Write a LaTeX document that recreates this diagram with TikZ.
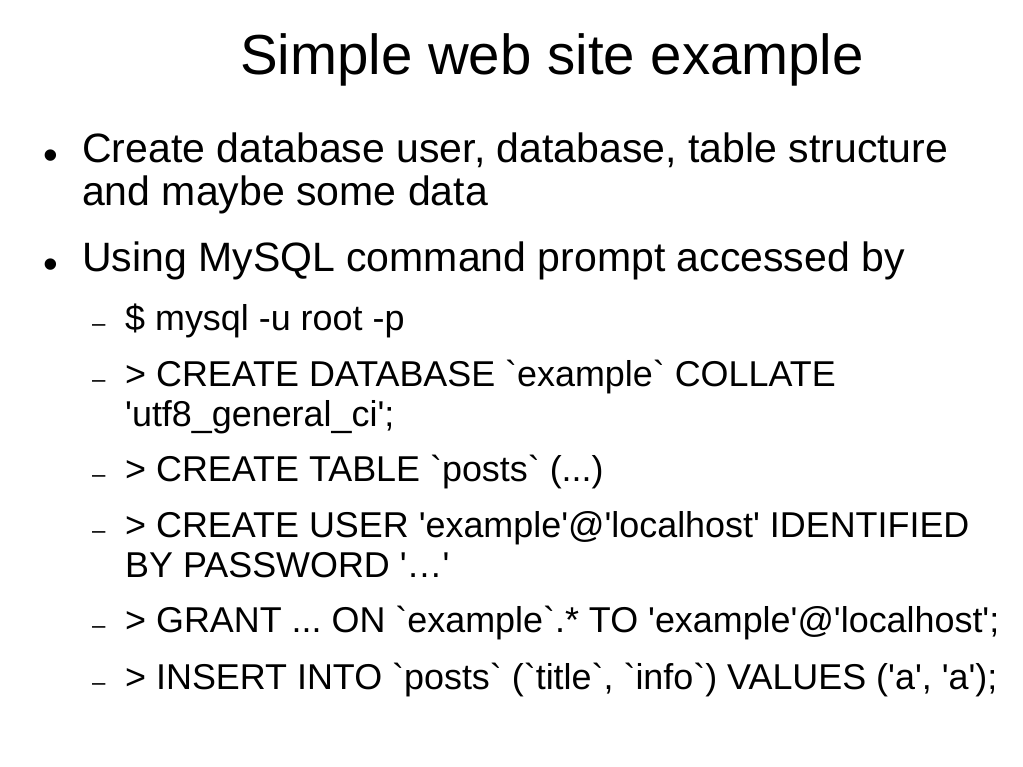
\documentclass[tikz,border=0pt]{standalone}
\usepackage{fontspec}
\setmainfont{Liberation Sans}[Ligatures=TeXOff]
\frenchspacing

\begin{document}
\begin{tikzpicture}[x=1pt, y=-1pt,
    every node/.style={inner sep=0pt, anchor=base west},
    slidetitle/.style={font=\fontsize{56.4}{64}\selectfont},
    itemtext/.style={font=\fontsize{41}{47}\selectfont},
    subtext/.style={font=\fontsize{35.9}{41}\selectfont},
    bulletdot/.style={font=\fontsize{42}{48}\selectfont},
    subdash/.style={font=\fontsize{24}{28}\selectfont}]
    \useasboundingbox (0,0) rectangle (1023,767);

    \node[slidetitle] (title) at (240,75) {Simple web site example};

    % first level
    \node[bulletdot] (dotA) at (43,170) {•};
    \node[itemtext] (itemA) at (82,163) {Create database user, database, table structure};
    \node[itemtext] (itemAb) at (82,206) {and maybe some data};

    \node[bulletdot] (dotB) at (43,279) {•};
    \node[itemtext] (itemB) at (82,272) {Using MySQL command prompt accessed by};

    % second level
    \node[subdash] (dashA) at (92,332) {–};
    \node[subtext] (subA) at (125,331) {\$ mysql -u root -p};

    \node[subdash] (dashB) at (92,387) {–};
    \node[subtext] (subB) at (125,386) {> CREATE DATABASE `example` COLLATE};
    \node[subtext] (subBb) at (125,426) {'utf8\_general\_ci';};

    \node[subdash] (dashC) at (92,482) {–};
    \node[subtext] (subC) at (125,481) {> CREATE TABLE `posts` (...)};

    \node[subdash] (dashD) at (92,538) {–};
    \node[subtext] (subD) at (125,537) {> CREATE USER 'example'@'localhost' IDENTIFIED};
    \node[subtext] (subDb) at (125,577) {BY PASSWORD '…'};

    \node[subdash] (dashE) at (92,633) {–};
    \node[subtext] (subE) at (125,632) {> GRANT ... ON `example`.* TO 'example'@'localhost';};

    \node[subdash] (dashF) at (92,690) {–};
    \node[subtext] (subF) at (125,689) {> INSERT INTO `posts` (`title`, `info`) VALUES ('a', 'a');};
\end{tikzpicture}
\end{document}
